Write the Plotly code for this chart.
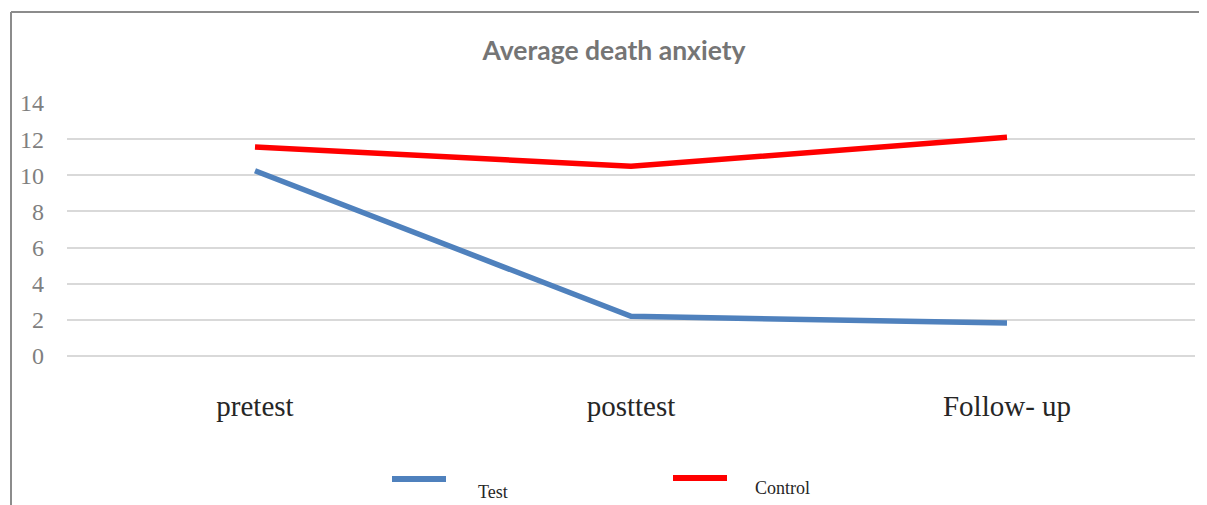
import plotly.graph_objects as go

categories = ["pretest", "posttest", "Follow- up"]
test_values = [10.25, 2.2, 1.82]
control_values = [11.57, 10.5, 12.1]
y_ticks = [0, 2, 4, 6, 8, 10, 12, 14]

OFF = 8  # page body margin
W, H = 1207 - OFF, 505 - OFF
# plot area in screen pixels: x 67..1195, y 103..356
L = 67 - OFF
T = 103 - OFF
R = W - (1195 - OFF)
B = H - (356 - OFF)
pw, ph = W - L - R, H - T - B

def px(x):
    return (x - OFF - L) / pw

def py(y):
    return (H - B - (y - OFF)) / ph

fig = go.Figure()
fig.add_trace(go.Scatter(x=categories, y=test_values, mode="lines", name="Test",
                         line=dict(color="#4f81bd", width=5.5), showlegend=False))
fig.add_trace(go.Scatter(x=categories, y=control_values, mode="lines", name="Control",
                         line=dict(color="#ff0000", width=5.5), showlegend=False))

shapes = [
    dict(type="line", xref="paper", yref="paper", x0=px(11), x1=px(11), y0=py(12), y1=py(520),
         line=dict(color="#8c8c8c", width=2)),
    dict(type="line", xref="paper", yref="paper", x0=px(11), x1=px(1215), y0=py(12), y1=py(12),
         line=dict(color="#8c8c8c", width=2)),
    dict(type="line", xref="paper", yref="paper", x0=px(392), x1=px(446), y0=py(479), y1=py(479),
         line=dict(color="#4f81bd", width=6)),
    dict(type="line", xref="paper", yref="paper", x0=px(673), x1=px(727), y0=py(478), y1=py(478),
         line=dict(color="#ff0000", width=6)),
]

annotations = [
    dict(text="Test", xref="paper", yref="paper", x=px(493), y=py(492), showarrow=False,
         xanchor="center", yanchor="middle",
         font=dict(family="Liberation Serif", size=18, color="#262626")),
    dict(text="Control", xref="paper", yref="paper", x=px(782), y=py(488), showarrow=False,
         xanchor="center", yanchor="middle",
         font=dict(family="Liberation Serif", size=18, color="#262626")),
]

fig.update_layout(
    width=W, height=H,
    margin=dict(l=L, r=R, t=T, b=B),
    paper_bgcolor="white", plot_bgcolor="white",
    title=dict(text="<b>Average death anxiety</b>", xref="container",
               x=(614 - OFF) / W, xanchor="center",
               yref="container", y=1 - (51 - OFF) / H, yanchor="middle",
               font=dict(family="Lato", size=26.5, color="#757575")),
    shapes=shapes,
    annotations=annotations,
    showlegend=False,
)
fig.update_xaxes(type="category", range=[-0.5, 2.5], showgrid=False, zeroline=False,
                 showline=False, ticks="", ticklabelstandoff=30,
                 tickfont=dict(family="Liberation Serif", size=29, color="#262626"))
fig.update_yaxes(range=[0, 14], tickvals=y_ticks, showgrid=True, gridcolor="#d9d9d9",
                 gridwidth=1.5, zeroline=True, zerolinecolor="#d9d9d9", zerolinewidth=1.5,
                 showline=False, ticks="", ticklabelstandoff=22,
                 tickfont=dict(family="Liberation Serif", size=24, color="#7f7f7f"))

fig.write_html("out.html")
